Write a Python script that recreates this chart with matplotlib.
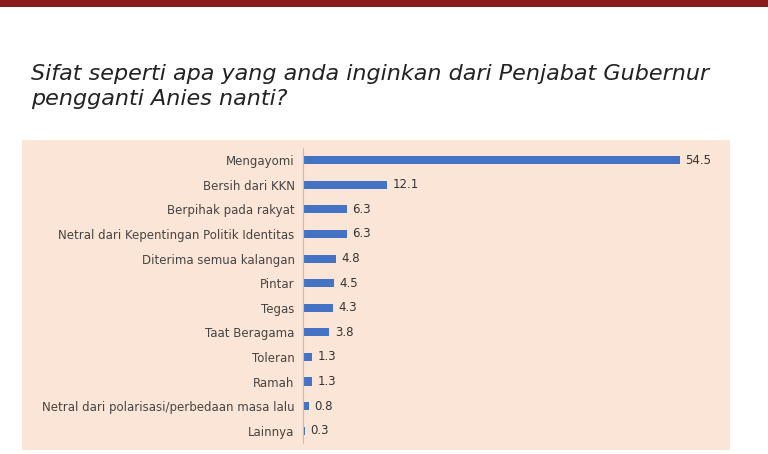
import matplotlib
matplotlib.use("Agg")
import matplotlib.pyplot as plt
from matplotlib.patches import Rectangle

categories = [
    "Mengayomi", "Bersih dari KKN", "Berpihak pada rakyat",
    "Netral dari Kepentingan Politik Identitas", "Diterima semua kalangan",
    "Pintar", "Tegas", "Taat Beragama", "Toleran", "Ramah",
    "Netral dari polarisasi/perbedaan masa lalu", "Lainnya",
]
values = [54.5, 12.1, 6.3, 6.3, 4.8, 4.5, 4.3, 3.8, 1.3, 1.3, 0.8, 0.3]

fig = plt.figure(figsize=(7.68, 4.54), dpi=100)
fig.patch.set_facecolor("white")

# top banner strip
fig.patches.append(Rectangle((0, 0.985), 1, 0.015, transform=fig.transFigure,
                             facecolor="#8b1a1a", edgecolor="none", zorder=-10))
# beige panel
fig.patches.append(Rectangle((0.0286, 0.0088), 0.922, 0.683, transform=fig.transFigure,
                             facecolor="#FBE5D6", edgecolor="none", zorder=-10))

fig.text(0.04, 0.81, "Sifat seperti apa yang anda inginkan dari Penjabat Gubernur\npengganti Anies nanti?",
         fontsize=16, style="italic", color="#222222", va="center", linespacing=1.3)

ax = fig.add_axes([0.3945, 0.0242, 0.5555, 0.65], zorder=5)
ax.set_facecolor("none")
y = list(range(len(categories)))
ax.barh(y, values, height=0.33, color="#4472C4")
for yi, v in zip(y, values):
    ax.text(v + 0.8, yi, f"{v}", va="center", fontsize=8.5, color="#333333")
ax.set_yticks(y)
ax.set_yticklabels(categories, fontsize=8.5, color="#444444")
ax.set_ylim(len(categories) - 0.5, -0.5)
ax.set_xlim(0, 61.7)
ax.set_xticks([])
for s in ["top", "right", "bottom"]:
    ax.spines[s].set_visible(False)
ax.spines["left"].set_color("#bfbfbf")
ax.tick_params(axis="y", length=0, pad=6)

fig.savefig("out.png", dpi=100)
